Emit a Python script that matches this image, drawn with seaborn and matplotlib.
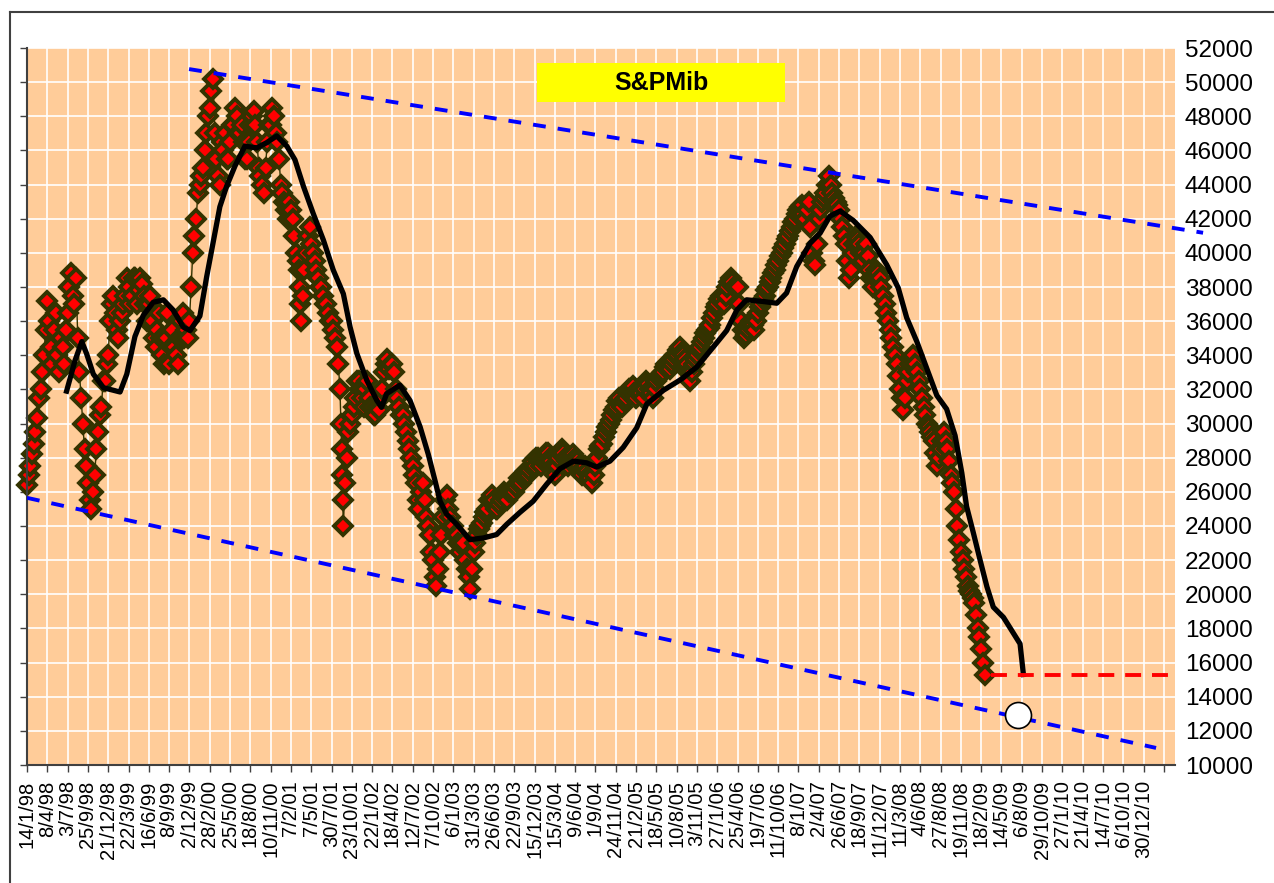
import numpy as np
import pandas as pd
import seaborn as sns
import matplotlib.pyplot as plt
from matplotlib.lines import Line2D
from matplotlib.patches import Rectangle

# x axis = trading session index, one label every 60 sessions
tick_labels = ['14/1/98', '8/4/98', '3/7/98', '25/9/98', '21/12/98', '22/3/99', '16/6/99', '8/9/99',
               '2/12/99', '28/2/00', '25/5/00', '18/8/00', '10/11/00', '7/2/01', '7/5/01', '30/7/01',
               '23/10/01', '22/1/02', '18/4/02', '12/7/02', '7/10/02', '6/1/03', '31/3/03', '26/6/03',
               '22/9/03', '15/12/03', '15/3/04', '9/6/04', '1/9/04', '24/11/04', '21/2/05', '18/5/05',
               '10/8/05', '3/11/05', '27/1/06', '25/4/06', '19/7/06', '11/10/06', '8/1/07', '2/4/07',
               '26/6/07', '18/9/07', '11/12/07', '11/3/08', '4/6/08', '27/8/08', '19/11/08', '18/2/09',
               '14/5/09', '6/8/09', '29/10/09', '27/1/10', '21/4/10', '14/7/10', '6/10/10', '30/12/10']

# index level, read every 10 sessions
price_day = list(range(0, 2840, 10))
price_val = [26400, 27500, 28800, 30300, 32000, 34000,
             37200, 34500, 35500, 34000, 35000, 33500,
             36500, 38800, 37000, 35000, 31500, 28500,
             26500, 25000, 27000, 29500, 31000, 32500,
             34000, 37000, 36500, 35000, 36500, 37500,
             38000, 37500, 38500, 37800, 38200, 37000,
             37000, 36000, 34500, 36500, 34000, 35000,
             33500, 35500, 34000, 35000, 36500, 35500,
             36000, 40000, 42000, 44000, 45000, 47000,
             48500, 50200, 45500, 44000, 46000, 45500,
             46500, 47500, 48000, 47000, 46500, 45500,
             47500, 48300, 46500, 44500, 43500, 46500,
             47500, 48000, 46500, 44000, 43000, 42000,
             42500, 41000, 39500, 36000, 39000, 41000,
             40500, 39500, 38500, 38000, 37000, 36500,
             36000, 35000, 33500, 28500, 26500, 29500,
             30500, 31500, 32500, 31500, 32000, 31500,
             31000, 30500, 30800, 32000, 33500, 33200,
             33500, 32000, 31000, 30500, 29500, 28500,
             27500, 26500, 25000, 26500, 24500, 23500,
             22000, 20500, 22500, 24500, 25800, 24500,
             24000, 23500, 22500, 23000, 21500, 20300,
             22500, 23500, 24000, 24500, 25000, 25500,
             25500, 25000, 25500, 26000, 25500, 26000,
             26000, 26500, 26500, 27000, 27000, 27500,
             27500, 28000, 27500, 28000, 28300, 27800,
             27000, 28000, 28500, 28000, 27500, 28000,
             28000, 27500, 27000, 27500, 27000, 26500,
             27500, 28500, 28800, 29500, 30000, 30500,
             31000, 31500, 31000, 31500, 32000, 32200,
             31500, 32000, 31500, 32500, 32000, 31500,
             32500, 32800, 33000, 33500, 33200, 33800,
             34000, 34500, 34000, 33500, 32500, 33500,
             34000, 34500, 35000, 35500, 35800, 36500,
             37000, 37500, 37000, 38000, 38500, 38000,
             38000, 36000, 35000, 35500, 36000, 35500,
             36500, 37000, 37500, 38000, 38500, 39000,
             39500, 40000, 40500, 41000, 41500, 42000,
             42500, 42800, 42000, 43000, 40000, 39300,
             42000, 43000, 43500, 44500, 43500, 43000,
             42500, 41500, 40500, 38500, 40000, 41000,
             40500, 39500, 40500, 39000, 38000, 39000,
             38500, 37500, 36500, 35500, 34500, 33500,
             32000, 30800, 32500, 33500, 34000, 33000,
             32000, 31000, 30000, 29500, 29000, 27500,
             28500, 29500, 28500, 27000, 26000, 24000,
             22500, 21500, 20500, 20000, 19500, 18000,
             16800, 15300]

# in-between sessions (other side of the daily band)
mid_day = list(range(5, 2830, 10))
mid_val = [27000, 28200, 29500, 31500, 33000, 35500,
           36000, 33500, 36500, 33000, 34500, 35500,
           38000, 37500, 38500, 33000, 30000, 27500,
           25500, 26000, 28500, 30500, 32500, 33500,
           36000, 37500, 35500, 36000, 37000, 38500,
           37000, 38500, 37000, 38500, 37500, 36000,
           37500, 35000, 35500, 35000, 33500, 36500,
           34500, 34500, 33500, 36000, 35000, 35000,
           38000, 41000, 43500, 44500, 46000, 48000,
           49500, 47000, 44500, 46500, 47000, 45500,
           47500, 48500, 47000, 47500, 45500, 46500,
           48000, 47500, 45000, 44000, 45000, 47500,
           48500, 47000, 45500, 43500, 42500, 43000,
           42000, 40000, 39000, 37500, 40000, 41500,
           40000, 39000, 38000, 37500, 37000, 36000,
           35500, 34500, 32000, 24000, 28000, 30000,
           31000, 32500, 32000, 31000, 32500, 31000,
           30500, 31000, 31500, 33000, 33800, 33500,
           33000, 31500, 30500, 30000, 29000, 28000,
           27000, 25500, 26000, 25500, 24000, 22500,
           21000, 21500, 23500, 25500, 25000, 24000,
           23500, 23000, 22800, 22000, 21000, 21500,
           23000, 23800, 24200, 24800, 25500, 25800,
           25000, 25300, 25800, 25800, 26000, 26200,
           26300, 26800, 26800, 27200, 27300, 27800,
           28000, 27800, 27800, 28300, 28000, 27500,
           27500, 28300, 28300, 27800, 27800, 28200,
           27800, 27200, 27300, 27200, 26800, 27000,
           28000, 28700, 29200, 29800, 30200, 30800,
           31300, 31200, 31300, 31800, 32000, 31800,
           31800, 31800, 32000, 32300, 31800, 32000,
           32700, 32900, 33300, 33400, 33500, 34000,
           34300, 34200, 33800, 33000, 33000, 33800,
           34300, 34800, 35300, 35600, 36200, 36800,
           37300, 37300, 37500, 38300, 38300, 38000,
           37000, 35500, 35200, 35800, 35800, 36000,
           36800, 37300, 37800, 38300, 38800, 39300,
           39800, 40300, 40800, 41300, 41800, 42300,
           42700, 42300, 42500, 41500, 39500, 40500,
           42500, 43200, 44000, 44000, 43200, 42800,
           42000, 41000, 39500, 39000, 40500, 40800,
           40000, 40000, 39800, 38500, 38500, 38800,
           38000, 37000, 36000, 35000, 34000, 32800,
           31500, 31500, 33000, 33800, 33500, 32500,
           31500, 30500, 29800, 29200, 28300, 28000,
           29000, 29000, 27800, 26500, 25000, 23200,
           22000, 21000, 20200, 19800, 18800, 17500,
           16000]

# extra sessions on the sharp falls
extra_day = [806, 808, 928, 931, 933]
extra_val = [38000, 37000, 30000, 27000, 25500]

# moving average (black line)
ma_day = [117, 142, 162, 176, 196, 226, 275, 295, 319, 344, 373, 403, 432, 462, 482, 511, 531, 551,
          570, 590, 615, 644, 679, 708, 738, 768, 792, 817, 846, 876, 905, 935, 955, 975, 1004, 1034,
          1048, 1063, 1102, 1132, 1162, 1186, 1206, 1221, 1240, 1270, 1309, 1349, 1388, 1418, 1457,
          1496, 1536, 1575, 1615, 1654, 1684, 1723, 1762, 1802, 1832, 1881, 1930, 1979, 2029, 2068,
          2098, 2127, 2176, 2216, 2245, 2275, 2314, 2344, 2373, 2403, 2442, 2492, 2541, 2575, 2600,
          2630, 2659, 2689, 2718, 2743, 2763, 2777, 2797, 2817, 2837, 2856, 2886, 2905, 2935, 2945]
ma_val = [31900, 33700, 34800, 34100, 32900, 32100, 31850, 32900, 35100, 36350, 37100, 37250, 36650,
          35650, 35450, 36300, 38600, 40700, 42700, 43900, 45100, 46250, 46150, 46450, 46850, 46250,
          45450, 43900, 42300, 40750, 39000, 37600, 35650, 34100, 32550, 31350, 30950, 31750, 32250,
          31350, 29800, 28200, 26650, 25450, 24700, 24100, 23200, 23300, 23500, 24100, 24800, 25450,
          26450, 27350, 27800, 27700, 27450, 27800, 28600, 29750, 31150, 31950, 32550, 33300, 34500,
          35450, 36650, 37250, 37150, 37050, 37650, 39200, 40550, 41150, 42150, 42450, 41900, 40900,
          39300, 37950, 36200, 34800, 33250, 31650, 30850, 29300, 27100, 25150, 23600, 22000, 20450,
          19250, 18650, 18050, 17100, 15300]

# trend channel, support level and target point
upper_day = [479, 3476]
upper_val = [50765, 41176]
lower_day = [0, 3337]
lower_val = [25650, 11000]
support_day = [2849, 3375]
support_val = [15300, 15300]
target_day = [2929]
target_val = [12950]

plt.rcParams['font.family'] = ['Liberation Sans', 'DejaVu Sans']

price = pd.DataFrame({'day': price_day + mid_day + extra_day,
                      'val': price_val + mid_val + extra_val}).sort_values('day')

fig = plt.figure(figsize=(12.74, 8.83), dpi=100)
ax = fig.add_axes([27 / 1274, 1 - 765 / 883, (1175 - 27) / 1274, (765 - 48) / 883])
ax.set_facecolor('#FFCC99')

sns.lineplot(data=price, x='day', y='val', ax=ax, estimator=None, color='#333300', lw=1,
             marker='D', markersize=9.5, markerfacecolor='#FF0000', markeredgecolor='#333300',
             markeredgewidth=2.8, clip_on=False, zorder=2)
sns.lineplot(x=ma_day, y=ma_val, ax=ax, estimator=None, color='black', lw=3.8, zorder=3)
sns.lineplot(x=upper_day, y=upper_val, ax=ax, estimator=None, color='#0000FF', lw=2.8,
             linestyle=(0, (3.3, 3.1)), clip_on=False, zorder=4)
sns.lineplot(x=lower_day, y=lower_val, ax=ax, estimator=None, color='#0000FF', lw=2.8,
             linestyle=(0, (3.3, 3.1)), zorder=4)
sns.lineplot(x=support_day, y=support_val, ax=ax, estimator=None, color='#FF0000', lw=2.8,
             linestyle=(0, (4.1, 2.8)), zorder=4)
sns.scatterplot(x=target_day, y=target_val, ax=ax, s=350, color='white', edgecolor='black',
                linewidth=1.2, zorder=5)

ax.set_xlim(0, 3393)
ax.set_ylim(10000, 52000)
ax.set_xticks(np.arange(0, 3361, 60))
ax.set_xticklabels(tick_labels + [''], rotation=90, fontsize=14.5, va='top')
ax.set_yticks(np.arange(10000, 52001, 2000))
ax.set_yticklabels([str(v) for v in range(10000, 52001, 2000)], fontsize=17.5)
ax.tick_params(axis='x', length=5, width=1, color='#404040', pad=6)
ax.tick_params(axis='y', left=True, right=False, labelleft=False, labelright=True,
               length=5, width=1, color='#404040', pad=2)
ax.set_xlabel('')
ax.set_ylabel('')
ax.grid(True, color='white', lw=1.2)
ax.set_axisbelow(True)
for side in ['top', 'right']:
    ax.spines[side].set_visible(False)
for side in ['left', 'bottom']:
    ax.spines[side].set_color('#404040')
    ax.spines[side].set_linewidth(1.5)

# title box
ax.add_patch(Rectangle((0.4443, 0.9247), 0.2160, 0.0544, transform=ax.transAxes,
                       facecolor='#FFFF00', edgecolor='none', zorder=6))
ax.text(0.5523, 0.951, 'S&PMib', transform=ax.transAxes, ha='center', va='center',
        fontsize=18, fontweight='bold', zorder=7)

# outer frame
fig.add_artist(Line2D([10 / 1274, 10 / 1274], [0, 1 - 12 / 883], color='#404040', lw=1.5))
fig.add_artist(Line2D([10 / 1274, 1], [1 - 12 / 883, 1 - 12 / 883], color='#404040', lw=1.5))

fig.savefig('out.png', dpi=100)
